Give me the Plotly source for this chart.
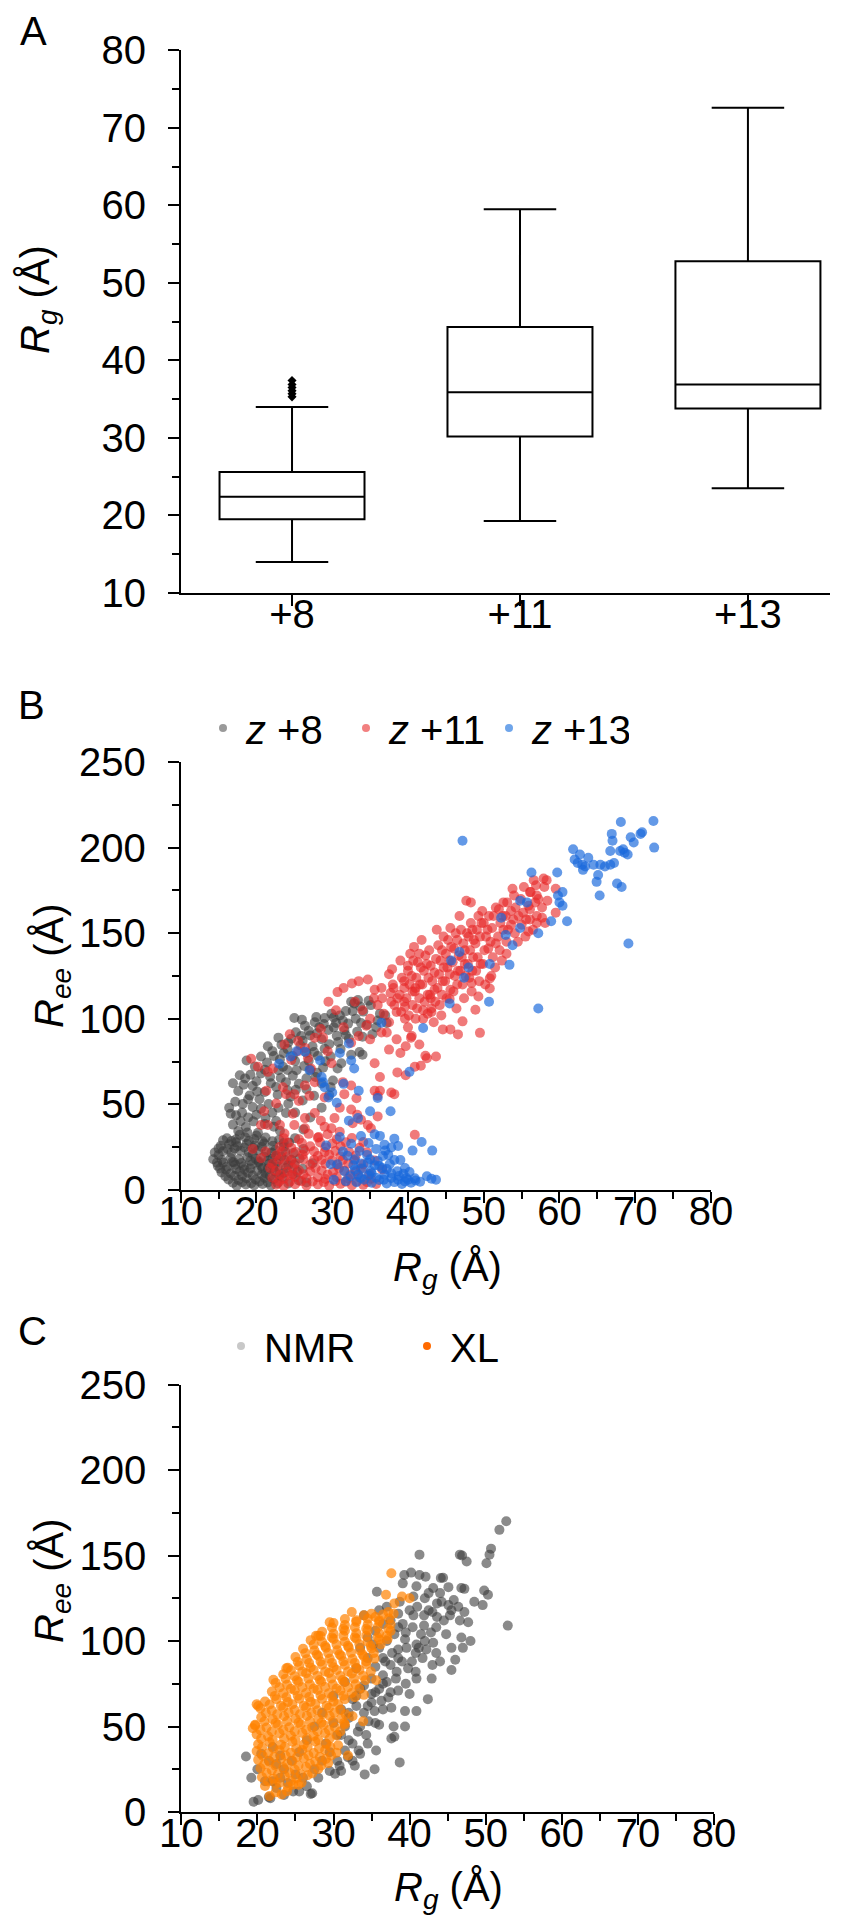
import plotly.graph_objects as go

# ---------------- Panel A data: box statistics of Rg (Å) ----------------
categories = ["+8", "+11", "+13"]
box_q1 = [19.5, 30.2, 33.8]
box_median = [22.4, 35.9, 36.9]
box_q3 = [25.6, 44.3, 52.8]
box_low = [14.0, 19.3, 23.5]
box_high = [34.0, 59.5, 72.6]
outlier_cat = ["+8", "+8", "+8", "+8", "+8", "+8"]
outlier_rg = [35.3, 35.7, 36.1, 36.5, 36.9, 37.4]

# ---------------- Panel B data: (Rg, Ree) pairs per charge state ----------------
b_z8 = [
    [17.4, 2.5], [18.6, 3.2], [19.7, 2.8], [20.8, 3.5], [21.9, 2.6], [22.8, 4.0], [24.2, 3.8],
    [16.3, 6.2], [17.6, 5.8], [18.7, 6.9], [19.9, 6.1], [21.1, 7.0], [22.3, 6.4], [23.4, 7.6], [25.6, 5.5],
    [15.4, 10.2], [16.6, 9.6], [17.8, 10.8], [18.9, 10.1], [20.1, 11.2], [21.2, 9.8], [22.4, 10.9], [23.6, 9.9], [26.1, 12.4],
    [14.9, 14.1], [16.1, 13.6], [17.2, 14.8], [18.3, 13.9], [19.4, 15.0], [20.6, 14.2], [21.7, 15.3], [22.8, 13.8], [25.0, 14.8],
    [14.3, 18.0], [15.4, 17.6], [16.6, 18.7], [17.7, 17.9], [18.8, 19.1], [19.9, 18.2], [21.0, 19.4], [22.1, 18.3], [23.3, 19.6], [24.6, 17.6],
    [14.5, 21.9], [15.6, 22.6], [16.7, 21.7], [17.9, 22.9], [19.0, 22.0], [20.2, 23.1], [21.3, 21.9], [22.5, 23.3],
    [15.3, 25.8], [16.4, 26.7], [17.5, 25.6], [18.7, 27.0], [19.8, 26.0], [21.0, 27.2], [22.2, 25.9],
    [16.1, 30.2], [17.3, 29.6], [18.5, 30.8], [19.7, 29.8], [21.2, 30.6], [23.6, 27.5],
    [15.0, 20.5], [16.0, 11.8], [17.0, 16.2], [18.1, 8.3], [19.2, 12.6], [20.3, 16.8], [21.5, 12.4], [22.6, 16.0],
    [19.5, 20.7], [17.1, 24.2], [20.7, 25.2], [23.8, 22.4], [24.8, 9.2], [26.6, 4.4], [27.4, 15.6], [26.2, 24.0], [24.3, 27.8],
    [16.9, 4.2], [18.1, 4.6], [19.3, 4.0], [20.4, 5.0], [21.5, 4.4], [15.9, 8.0], [17.1, 8.2], [19.5, 8.5],
    [20.7, 8.9], [21.8, 8.2], [23.0, 8.8], [15.6, 15.9], [16.8, 16.4], [18.0, 15.8], [19.2, 17.0], [20.3, 16.1],
    [21.5, 17.2], [22.6, 19.9], [15.0, 24.3], [16.2, 24.0], [17.3, 27.9], [18.4, 24.8], [19.6, 24.5], [20.8, 28.5],
    [22.0, 21.7], [23.0, 29.4], [16.7, 28.6], [19.0, 28.6], [20.0, 31.8], [17.8, 32.2], [18.8, 33.6], [15.6, 29.0],
    [14.8, 16.0], [15.2, 12.5], [17.3, 12.3], [18.4, 12.0], [20.8, 12.6], [22.2, 13.0], [23.9, 12.8], [25.4, 10.6],
    [24.2, 14.6], [23.7, 17.5], [24.9, 21.6], [25.7, 18.4],
    [16.6, 44.5], [17.3, 43.6], [18.1, 45.2], [16.9, 38.2], [17.6, 34.5], [18.6, 36.8], [19.6, 40.1], [20.2, 33.4],
    [21.1, 38.5], [18.2, 50.3], [19.1, 55.2], [17.6, 57.8], [18.3, 61.5], [16.9, 62.4], [20.0, 63.5], [19.2, 67.3],
    [17.8, 67.0], [21.1, 57.3], [21.6, 50.2], [20.6, 47.4], [22.1, 45.1], [22.6, 40.3], [23.1, 34.6], [19.5, 48.5],
    [20.4, 53.0], [21.9, 62.4], [22.8, 55.6], [18.7, 75.6], [19.8, 72.1], [21.1, 70.3], [20.6, 78.0],
    [17.9, 40.2], [18.9, 42.3], [20.0, 44.0], [21.2, 42.0], [22.3, 37.0], [16.4, 48.0], [17.2, 51.5], [18.9, 53.0],
    [20.1, 57.5], [19.5, 60.8], [18.5, 65.2], [20.6, 68.0], [21.8, 66.2], [22.9, 70.0], [21.4, 74.5], [22.3, 78.3],
    [23.6, 80.0], [24.8, 78.3], [23.3, 84.8], [24.2, 86.2], [25.9, 90.0], [26.9, 93.0], [27.9, 101.0], [28.9, 97.0],
    [29.5, 93.5], [30.2, 100.8], [31.4, 99.0], [32.7, 104.5], [33.7, 107.2], [34.8, 110.5], [26.0, 99.5], [28.0, 91.5],
    [30.8, 86.5], [29.0, 82.5], [27.6, 80.6], [26.3, 72.5], [25.3, 70.0], [23.9, 63.0], [22.9, 48.0], [23.9, 45.0],
    [24.5, 54.5], [25.2, 58.5], [26.6, 58.8], [27.8, 66.0], [28.8, 71.5], [30.1, 64.0], [29.8, 60.0], [31.2, 74.0],
    [32.5, 79.0], [33.3, 92.5], [34.0, 89.5], [35.3, 91.0], [36.0, 99.0], [37.2, 97.5], [33.8, 97.5], [31.8, 90.5],
    [21.5, 84.0], [22.9, 89.0], [22.1, 81.1], [23.1, 76.2], [24.1, 82.3], [24.6, 88.4], [25.2, 92.1], [25.0, 100.5],
    [26.4, 96.0], [27.7, 98.0], [28.3, 95.1], [29.0, 100.5], [29.9, 103.0], [31.0, 102.0], [30.5, 97.6], [32.5, 110.0],
    [33.4, 111.0], [36.3, 103.0], [33.6, 80.6], [30.7, 71.0], [26.1, 87.2], [27.1, 90.3], [28.6, 88.1], [26.6, 80.2],
    [25.1, 75.3], [24.1, 70.1], [23.2, 65.4], [22.6, 60.2], [24.1, 58.3], [25.6, 62.1], [27.1, 70.2], [28.1, 78.3],
    [29.6, 85.2], [30.6, 90.1], [31.6, 93.3], [32.1, 97.2], [33.1, 100.1], [34.1, 104.2], [35.1, 108.0], [24.2, 50.4],
    [25.1, 45.2], [26.1, 52.3], [27.6, 55.1], [28.6, 62.2], [26.6, 65.3], [29.1, 75.2], [31.1, 82.4], [32.2, 88.3],
    [22.1, 28.5], [23.6, 25.2], [25.1, 30.3], [26.2, 35.4], [27.1, 42.3], [28.6, 48.1], [29.6, 55.4], [32.9, 109.0],
    [37.0, 102.0], [34.0, 79.0], [25.8, 84.5], [27.4, 84.0], [23.5, 72.0], [24.8, 66.8], [28.0, 68.5], [29.8, 78.0],
    [30.2, 95.0], [26.9, 75.5], [31.8, 104.5], [35.8, 95.0], [34.6, 96.5],
]

b_z11 = [
    [22.6, 3.1], [23.6, 2.4], [25.1, 3.4], [26.6, 2.6], [28.1, 3.3], [29.6, 2.5], [31.1, 3.6], [32.6, 2.8], [34.1, 3.0],
    [22.1, 7.2], [23.6, 6.6], [25.1, 7.6], [26.6, 6.8], [28.1, 7.4], [29.1, 6.4], [30.6, 7.5], [32.1, 6.7], [33.6, 7.3], [35.1, 6.5],
    [22.6, 11.2], [24.1, 10.6], [25.6, 11.5], [27.1, 10.8], [28.6, 11.4], [30.1, 10.5], [31.6, 11.3], [33.1, 10.9],
    [22.1, 15.3], [23.6, 14.7], [25.1, 15.6], [27.1, 14.8], [29.1, 15.4], [30.6, 14.6], [32.1, 15.5], [34.1, 15.0],
    [22.6, 20.3], [24.1, 19.6], [26.1, 20.5], [28.1, 19.8], [29.6, 20.6], [31.1, 19.7], [33.1, 20.2],
    [23.1, 25.2], [24.6, 24.6], [27.1, 25.5], [29.1, 24.8], [31.1, 25.6], [33.6, 24.7],
    [23.6, 30.3], [25.6, 29.6], [28.1, 30.5], [30.6, 29.7], [32.6, 30.4],
    [19.5, 24.0], [21.2, 22.5], [20.6, 18.5], [21.8, 12.8], [27.6, 17.6], [24.6, 8.6], [26.4, 22.8], [30.0, 17.2],
    [35.8, 3.5], [36.6, 12.0], [40.9, 32.3],
    [23.0, 5.0], [24.4, 4.8], [25.9, 5.2], [27.4, 5.0], [28.9, 4.6], [30.4, 5.2], [31.8, 4.8], [33.2, 5.0],
    [34.6, 4.6], [23.2, 9.0], [24.8, 12.8], [26.2, 9.2], [27.8, 12.9], [29.4, 9.0], [30.9, 12.8], [32.4, 9.0],
    [33.8, 12.6], [23.0, 17.8], [24.6, 17.4], [26.2, 17.9], [28.6, 17.5], [31.4, 17.6], [32.9, 17.4], [23.4, 22.5],
    [25.2, 22.2], [27.6, 22.6], [29.0, 22.2], [30.4, 22.8], [32.2, 22.4], [24.1, 27.6], [26.0, 27.4], [28.4, 27.8],
    [30.0, 27.2], [31.8, 27.9], [34.9, 9.4], [35.6, 17.2], [34.6, 22.0], [34.1, 28.0], [26.9, 32.8], [29.4, 32.6],
    [19.3, 76.7], [20.2, 72.0], [21.5, 69.0], [22.2, 71.0], [21.3, 58.0], [23.5, 60.0], [23.9, 56.0], [20.6, 38.0],
    [21.5, 38.0], [23.1, 38.0], [23.7, 33.0], [25.0, 38.0], [26.4, 42.0], [27.7, 45.0], [26.4, 36.0], [28.2, 31.0],
    [29.0, 37.0], [29.9, 36.0], [30.3, 42.0], [31.0, 48.0], [31.6, 56.0], [31.4, 63.0], [29.9, 74.0], [29.4, 81.0],
    [28.8, 89.0], [28.5, 94.0], [27.7, 89.0], [26.4, 83.0], [25.5, 81.0], [24.6, 76.0], [23.7, 85.0], [24.4, 91.0],
    [25.5, 87.0], [26.8, 77.0], [27.2, 71.0], [27.7, 63.0], [26.4, 61.0], [25.0, 56.0], [25.6, 52.0], [27.0, 55.0],
    [29.0, 54.0], [32.5, 47.0], [32.7, 39.0], [33.8, 41.0], [34.7, 38.0], [35.6, 58.0], [36.0, 55.0], [37.8, 57.0],
    [36.0, 43.0], [35.1, 36.0], [33.3, 44.0], [32.5, 61.0], [33.2, 53.6], [35.6, 74.0], [36.3, 66.0], [38.6, 68.7],
    [38.2, 56.0], [36.3, 58.0], [39.7, 67.0], [40.9, 72.0], [42.5, 77.0], [43.7, 78.0], [41.7, 72.6], [42.3, 78.4],
    [21.0, 46.0], [22.6, 50.5], [24.8, 44.5], [28.5, 40.5], [31.0, 34.0],
    [30.7, 115.6], [32.6, 120.6], [34.7, 123.0], [31.5, 118.0], [33.5, 122.0], [33.0, 110.0], [34.0, 105.0], [35.0, 100.0],
    [35.5, 112.0], [36.5, 118.0], [37.5, 126.0], [38.0, 120.0], [36.0, 108.0], [34.5, 96.0], [33.5, 90.0], [32.5, 86.0],
    [35.0, 88.0], [36.5, 92.0], [37.5, 98.0], [38.5, 104.0], [39.5, 110.0], [38.5, 88.0], [39.0, 80.0], [37.5, 82.0],
    [40.0, 95.0], [41.0, 100.0], [40.5, 90.0], [41.5, 85.0], [42.0, 105.0], [43.0, 112.0], [41.0, 118.0], [39.5, 122.0],
    [40.0, 128.0], [37.2, 92.0], [31.5, 95.0], [30.5, 105.0], [29.5, 110.0], [40.4, 89.0], [39.7, 84.0], [43.1, 106.0],
    [45.5, 111.6], [44.6, 93.8], [45.6, 93.8], [46.6, 90.9], [49.5, 91.8], [47.2, 98.5], [48.9, 105.3], [50.8, 117.7],
    [50.8, 123.6], [49.3, 113.0], [48.4, 120.9], [47.7, 169.0], [48.3, 168.0],
    [38.2, 108], [38.1, 118], [37.9, 129], [39.1, 104], [38.9, 114], [39.2, 124], [39.0, 134],
    [40.1, 102], [39.8, 112], [40.2, 120], [40.0, 131], [40.3, 138],
    [41.2, 106], [40.9, 116], [41.1, 124], [41.3, 133], [40.8, 142],
    [42.0, 100], [42.2, 110], [41.9, 120], [42.1, 128], [42.3, 137], [41.8, 146],
    [43.1, 104], [42.9, 114], [43.2, 122], [43.0, 131], [42.8, 140],
    [44.2, 108], [43.9, 118], [44.1, 126], [44.3, 134], [44.0, 143], [43.8, 152],
    [45.1, 112], [44.9, 122], [45.2, 130], [45.0, 138], [45.3, 146],
    [46.0, 116], [46.2, 125], [45.9, 133], [46.1, 141], [46.3, 150],
    [47.2, 120], [46.9, 128], [47.1, 136], [47.3, 144], [47.0, 152], [46.8, 160],
    [48.1, 124], [47.9, 132], [48.2, 140], [48.0, 148], [48.3, 156],
    [49.0, 128], [49.2, 136], [48.9, 144], [49.1, 152], [49.3, 160],
    [50.2, 120], [49.9, 132], [50.1, 140], [50.3, 148], [50.0, 156], [49.8, 163],
    [51.0, 125], [51.2, 136], [50.9, 145], [51.1, 153], [51.3, 160],
    [52.1, 140], [51.9, 148], [52.2, 156], [52.0, 164],
    [53.0, 145], [53.2, 152], [52.9, 160], [53.1, 168],
    [54.1, 150], [53.9, 158], [54.2, 165], [54.0, 172],
    [55.0, 155], [55.2, 162], [54.9, 170],
    [56.1, 158], [55.9, 166], [56.2, 174],
    [57.0, 160], [57.2, 170], [56.9, 178],
    [57.9, 182], [58.3, 181], [59.5, 176], [56.1, 174], [57.0, 172], [58.4, 169], [57.7, 165], [56.8, 168],
    [56.1, 164], [59.5, 162], [57.7, 159], [57.0, 156], [58.1, 156], [55.9, 151],
    [39.5, 118], [41.5, 112], [43.5, 127], [45.5, 134], [47.5, 140], [49.5, 148], [44.5, 140], [46.5, 146],
    [42.5, 132], [40.5, 125], [48.5, 152], [50.5, 152], [52.5, 160], [43.5, 117], [45.5, 126], [47.5, 132],
    [41.5, 138], [46.5, 120], [44.5, 114], [48.5, 128],
    [38.6, 112], [39.6, 107], [40.6, 116], [41.6, 120], [42.6, 114], [43.6, 110], [44.6, 122], [45.6, 117],
    [46.6, 128], [47.6, 125], [48.6, 136], [49.6, 132], [50.6, 141], [51.6, 144], [52.6, 152], [53.6, 155],
    [54.6, 160], [55.6, 158], [44.7, 130], [45.7, 142], [46.7, 137], [47.8, 150], [48.7, 146], [49.7, 156],
    [50.7, 160], [51.6, 165], [52.6, 168], [53.6, 163], [42.7, 124], [41.7, 130], [40.7, 134], [43.7, 135],
    [44.7, 148], [45.6, 153], [39.6, 100], [40.6, 108], [42.6, 103], [36.8, 103], [37.8, 110], [36.6, 112],
    [35.6, 117], [37.7, 115], [43.4, 98], [44.4, 102], [46.4, 106], [47.4, 112], [48.4, 116], [49.4, 122],
    [51.5, 130], [52.4, 134], [53.0, 138], [54.5, 145], [55.5, 148], [56.5, 152], [53.8, 176], [55.3, 177],
    [56.6, 181], [58.0, 177],
]

b_z13 = [
    [68.1, 215], [72.4, 215.5], [66.9, 208], [67.0, 204], [69.4, 206], [70.9, 209], [70.7, 208], [69.8, 203],
    [72.5, 200], [61.8, 199], [62.7, 196], [63.8, 194], [62.4, 191], [63.4, 189], [63.1, 187], [64.5, 190],
    [65.4, 190], [66.0, 189], [66.7, 190], [67.2, 191], [66.7, 198], [68.0, 198], [68.6, 197], [69.0, 196],
    [68.4, 199], [65.1, 184], [64.9, 180], [65.3, 172], [67.6, 179], [68.2, 177], [69.1, 144], [56.3, 185.5],
    [59.7, 185.5], [59.8, 172], [60.4, 174], [60.0, 168], [60.4, 166], [61.0, 157], [58.9, 157], [57.2, 150],
    [57.2, 106], [63.0, 190], [62.0, 193],
    [47.2, 204], [54.8, 169], [55.7, 168], [52.3, 159], [52.9, 149], [54.8, 153], [53.8, 143], [53.4, 131.5],
    [50.8, 132], [48.0, 130], [47.4, 124], [45.7, 134], [46.8, 139], [45.5, 109], [50.7, 110], [42.0, 94.6],
    [40.2, 69], [36.5, 97.7], [37.7, 46], [36.0, 53.7], [35.0, 46], [33.4, 42], [32.2, 40.5], [31.0, 80],
    [32.2, 85.6], [32.5, 75.6], [32.9, 71], [30.6, 51], [29.5, 54], [28.6, 66], [28.8, 63], [28.4, 75.6],
    [23.0, 73.7], [25.3, 81], [26.4, 80.8], [40.6, 23], [41.8, 28], [43.2, 23], [43.1, 6.6], [40.9, 6.8],
    [42.5, 8], [43.7, 6], [29.0, 60], [30.0, 57], [31.5, 62], [27.0, 70], [24.5, 78], [33.5, 58],
    [31.0, 31], [32.5, 27], [33.8, 31.5], [35.6, 32.5], [36.3, 31.6], [37.8, 24.8], [38.7, 25.7], [36.7, 19.9],
    [33.6, 22.8], [34.7, 16], [32.0, 20], [30.7, 15], [29.8, 15], [31.6, 11], [33.4, 9], [35.1, 11],
    [36.9, 9], [37.8, 7], [38.7, 6], [39.6, 5], [40.0, 6],
    [33.2, 4.5], [34.2, 6.0], [35.2, 4.2], [36.2, 5.8], [37.2, 3.8], [38.2, 4.6], [39.2, 3.5], [34.0, 12.5],
    [35.6, 14.5], [36.6, 12.8], [37.6, 15.2], [38.6, 11.0], [39.4, 9.5], [34.6, 20.5], [35.8, 24.0], [36.9, 26.5],
    [39.0, 17.5], [32.8, 14.5], [33.0, 18.0], [31.4, 22.5], [30.2, 6.0], [31.8, 5.2], [37.4, 20.5], [38.2, 30.0],
    [34.8, 27.5], [29.2, 26.0],
    [33.8, 7.0], [34.8, 8.5], [35.8, 7.2], [36.8, 6.0], [37.8, 9.8], [38.8, 8.2], [39.8, 7.0], [40.4, 4.2],
    [41.0, 5.5], [35.2, 9.8], [36.2, 14.0], [37.2, 12.2], [38.2, 17.5], [35.0, 18.0], [33.8, 15.5], [36.0, 17.0],
    [37.0, 23.0], [39.6, 12.8], [40.2, 10.5], [41.6, 4.8], [32.4, 8.0], [33.0, 12.0],
]

# ---------------- Panel C data: (Rg, Ree) pairs, NMR vs XL ----------------
c_nmr = [
    [52.7, 170], [51.8, 165], [50.7, 154], [50.5, 150.5], [50.1, 145.5], [46.6, 150.5], [46.9, 150], [47.5, 146.5],
    [41.3, 150.5], [52.9, 109], [49.6, 121], [50.3, 127], [49.8, 129.5], [46.8, 131], [47.2, 130.5], [45.1, 131.5],
    [44.1, 136.8], [44.4, 137], [41.3, 138.6], [42.1, 137.6], [39.3, 138.6], [39.1, 133.7], [35.7, 128.8], [40.9, 132],
    [43.1, 131], [38.7, 123], [40.5, 126], [42.0, 125], [43.6, 122], [44.2, 123], [45.1, 121], [46.4, 120],
    [45.3, 115], [46.6, 112], [47.7, 111], [40.5, 115], [41.9, 115], [43.0, 117], [43.6, 114], [39.1, 110],
    [40.4, 108], [41.9, 109], [42.8, 105], [39.4, 101], [40.9, 98], [42.0, 100], [43.1, 99], [39.6, 96],
    [40.8, 93], [41.7, 90], [40.3, 88], [46.8, 102], [47.0, 96], [45.5, 83], [39.0, 88], [37.7, 93],
    [38.3, 82], [40.9, 78], [42.9, 78], [40.8, 82], [40.0, 69], [42.4, 66], [38.5, 71], [37.2, 67],
    [39.4, 59], [40.9, 59], [37.6, 61], [35.0, 69], [36.3, 65], [35.4, 59], [34.6, 53], [36.0, 51],
    [37.9, 50], [38.0, 44], [39.4, 50], [37.6, 43], [33.2, 47], [34.3, 45], [35.6, 36], [33.3, 36],
    [38.7, 29], [34.1, 22], [35.4, 25], [31.9, 32], [32.8, 27], [30.8, 27], [30.2, 22.4], [27.2, 11],
    [21.7, 8], [19.5, 6], [27.0, 10.5], [18.5, 32.5], [19.2, 20], [20.0, 25], [21.0, 18], [22.0, 18],
    [23.0, 20], [24.0, 17], [24.7, 12], [20.1, 7], [21.5, 8.8],
    [31.0, 60], [32.0, 55], [33.0, 62], [34.0, 58], [35.0, 64], [36.0, 72], [37.0, 76], [36.5, 80],
    [35.5, 85], [34.5, 90], [33.5, 96], [34.5, 102], [35.5, 106], [36.5, 110], [37.5, 112], [38.5, 116],
    [37.0, 100], [38.0, 104], [36.0, 96], [35.0, 78], [33.5, 72], [32.5, 66], [31.5, 50], [30.5, 45],
    [32.0, 42], [29.5, 35], [28.5, 30], [27.5, 25], [26.0, 20], [25.0, 22], [29.0, 40], [30.0, 52],
    [38.5, 95], [39.5, 105], [41.0, 120], [42.5, 128], [44.0, 128], [48.5, 123], [37.0, 120], [36.0, 118],
    [34.0, 115], [35.2, 98], [33.0, 84], [31.5, 76], [30.0, 68], [28.5, 58], [27.5, 50], [26.5, 42],
    [25.5, 35], [24.5, 30], [23.5, 25], [22.5, 28], [21.5, 30], [20.5, 34], [22.0, 38], [23.0, 33],
    [40.2, 140], [45.8, 124], [47.2, 117], [48.0, 100], [43.5, 108], [44.8, 104], [45.5, 96], [46.0, 89],
    [29.5, 24], [30.5, 30], [31.5, 36], [32.5, 40], [33.5, 50], [34.5, 62], [35.5, 70], [36.5, 75],
    [37.5, 86], [38.5, 90], [37.5, 70], [36.5, 60], [35.5, 52], [34.5, 40], [33.5, 34], [32.5, 30],
    [31.0, 24], [28.0, 20], [26.5, 15], [25.5, 12], [23.5, 10], [22.5, 14], [36.8, 88], [38.2, 78],
    [39.5, 75], [39.8, 84], [41.2, 96], [42.2, 95], [43.5, 93], [44.0, 88], [43.0, 86], [41.5, 104],
    [44.5, 112], [42.5, 118], [45.5, 118], [40.0, 118], [38.5, 108], [36.5, 90], [34.0, 74], [33.0, 68],
    [32.0, 58], [31.0, 45],
]

c_xl = [
    [21.6, 9.3], [23.2, 10.3], [23.9, 12.2], [22.4, 11.5],
    [21.0, 15.2], [22.4, 16.6], [24.0, 14.6], [25.4, 16.0], [24.7, 15.9],
    [20.6, 20.4], [22.1, 19.5], [23.6, 21.2], [25.1, 19.8], [26.6, 21.5], [27.2, 22.7],
    [20.4, 25.6], [21.9, 24.4], [23.4, 26.1], [24.9, 24.8], [26.4, 26.3], [28.0, 25.2], [29.3, 28.6],
    [20.1, 30.5], [21.6, 29.4], [23.1, 31.2], [24.6, 29.8], [26.1, 31.4], [27.6, 29.6], [29.0, 31.0],
    [19.9, 35.6], [21.4, 34.3], [22.9, 36.1], [24.4, 34.7], [25.9, 36.3], [27.4, 34.5], [28.9, 36.2], [30.4, 34.6], [31.9, 33.0],
    [20.1, 39.6], [21.6, 40.8], [23.1, 39.4], [24.6, 41.1], [26.1, 39.5], [27.6, 41.2], [29.1, 39.8], [30.6, 39.0],
    [19.9, 45.4], [21.4, 44.3], [22.9, 46.0], [24.4, 44.6], [25.9, 46.2], [27.4, 44.5], [28.9, 46.1], [30.4, 44.7],
    [19.7, 50.6], [21.2, 49.4], [22.7, 51.2], [24.2, 49.6], [25.7, 51.3], [27.2, 49.5], [28.7, 51.0], [30.2, 49.6], [31.5, 51.2],
    [20.5, 55.4], [22.0, 54.3], [23.5, 56.0], [25.0, 54.5], [26.5, 56.2], [28.0, 54.4], [29.5, 56.1], [31.0, 54.6], [32.5, 56.0], [33.9, 53.0],
    [20.4, 60.6], [21.9, 59.4], [23.4, 61.2], [24.9, 59.6], [26.4, 61.3], [27.9, 59.5], [29.4, 61.0], [30.9, 59.7],
    [21.0, 64.6], [22.5, 66.0], [24.0, 64.4], [25.5, 66.2], [27.0, 64.5], [28.5, 66.1], [30.0, 64.6], [31.5, 66.0],
    [21.9, 70.4], [23.4, 69.5], [24.9, 71.2], [26.4, 69.6], [27.9, 71.3], [29.4, 69.5], [30.9, 71.0], [32.4, 69.6], [34.0, 68.5],
    [22.4, 75.5], [23.9, 74.4], [25.4, 76.1], [26.9, 74.6], [28.4, 76.2], [29.9, 74.5], [31.4, 76.0], [32.9, 74.7],
    [23.4, 80.6], [24.9, 79.4], [26.4, 81.2], [27.9, 79.6], [29.4, 81.3], [30.9, 79.5], [32.4, 81.0], [33.9, 79.6], [35.6, 77.0],
    [24.0, 84.4], [25.5, 85.6], [27.0, 84.5], [28.5, 86.1], [30.0, 84.6], [31.5, 86.0], [33.0, 84.4], [34.3, 86.5],
    [25.0, 90.6], [26.5, 89.4], [28.0, 91.2], [29.5, 89.6], [31.0, 91.3], [32.5, 89.5], [34.0, 91.0], [35.4, 89.7],
    [26.0, 95.5], [27.5, 94.4], [29.0, 96.1], [30.5, 94.6], [32.0, 96.2], [33.5, 94.5], [35.0, 95.6],
    [27.0, 100.5], [28.5, 99.4], [30.0, 101.2], [31.5, 99.6], [33.0, 101.3], [34.5, 99.5], [36.0, 100.8], [37.1, 101.0],
    [28.5, 105.4], [30.0, 104.3], [31.5, 106.0], [33.0, 104.6], [34.5, 106.2], [36.0, 104.5], [37.5, 105.8],
    [30.0, 110.5], [31.5, 109.4], [33.0, 111.2], [34.5, 109.6], [36.0, 111.3], [37.5, 109.8],
    [32.4, 117.0], [34.0, 115.0], [35.0, 116.0], [35.5, 114.0], [36.5, 115.5], [37.9, 116.0], [37.2, 117.0],
    [37.6, 139.6], [36.9, 127.0], [39.0, 126.0], [40.0, 125.0], [38.0, 122.0], [29.5, 111.0], [27.7, 103.0],
    [23.8, 84.0], [22.1, 77.3], [20.1, 62.0], [19.7, 51.0], [19.4, 49.0], [19.9, 63.0], [28.0, 103.0],
    [21.4, 17.9], [22.9, 17.1], [24.4, 18.0], [25.8, 17.2],
    [21.2, 22.8], [22.7, 22.0], [24.2, 23.0], [25.7, 22.1],
    [20.9, 27.9], [22.4, 27.1], [23.9, 28.0], [25.4, 27.2], [26.9, 28.1], [28.4, 27.2],
    [20.7, 32.9], [22.2, 32.1], [23.7, 33.0], [25.2, 32.2], [26.7, 33.1], [28.2, 32.2], [29.7, 33.0],
    [20.6, 37.9], [22.1, 37.1], [23.6, 38.0], [25.1, 37.2], [26.6, 38.1], [28.1, 37.2], [29.6, 38.0],
    [20.5, 42.9], [22.0, 42.1], [23.5, 43.0], [25.0, 42.2], [26.5, 43.1], [28.0, 42.2], [29.5, 43.0],
    [20.4, 47.9], [21.9, 47.1], [23.4, 48.0], [24.9, 47.2], [26.4, 48.1], [27.9, 47.2], [29.4, 48.0], [30.9, 47.1],
    [20.9, 52.9], [22.4, 52.1], [23.9, 53.0], [25.4, 52.2], [26.9, 53.1], [28.4, 52.2], [29.9, 53.0], [31.4, 52.1],
    [21.1, 57.9], [22.6, 57.1], [24.1, 58.0], [25.6, 57.2], [27.1, 58.1], [28.6, 57.2], [30.1, 58.0], [31.6, 57.1],
    [21.6, 62.9], [23.1, 62.1], [24.6, 63.0], [26.1, 62.2], [27.6, 63.1], [29.1, 62.2], [30.6, 63.0],
    [22.3, 67.9], [23.8, 67.1], [25.3, 68.0], [26.8, 67.2], [28.3, 68.1], [29.8, 67.2], [31.3, 68.0], [32.8, 67.1],
    [22.9, 72.9], [24.4, 72.1], [25.9, 73.0], [27.4, 72.2], [28.9, 73.1], [30.4, 72.2], [31.9, 73.0], [33.4, 72.1],
    [23.7, 77.9], [25.2, 77.1], [26.7, 78.0], [28.2, 77.2], [29.7, 78.1], [31.2, 77.2], [32.7, 78.0], [34.2, 77.1],
    [24.4, 82.9], [25.9, 82.1], [27.4, 83.0], [28.9, 82.2], [30.4, 83.1], [31.9, 82.2], [33.4, 83.0], [34.9, 82.1],
    [25.3, 87.9], [26.8, 87.1], [28.3, 88.0], [29.8, 87.2], [31.3, 88.1], [32.8, 87.2], [34.3, 88.0],
    [26.3, 92.9], [27.8, 92.1], [29.3, 93.0], [30.8, 92.2], [32.3, 93.1], [33.8, 92.2], [35.3, 93.0],
    [27.4, 97.9], [28.9, 97.1], [30.4, 98.0], [31.9, 97.2], [33.4, 98.1], [34.9, 97.2], [36.2, 98.0],
    [28.3, 102.9], [29.8, 102.1], [31.3, 103.0], [32.8, 102.2], [34.3, 103.1], [35.8, 102.2], [37.0, 103.0],
    [29.8, 107.9], [31.3, 107.1], [32.8, 108.0], [34.3, 107.2], [35.8, 108.1], [37.2, 107.2],
    [31.5, 112.9], [33.0, 112.1], [34.5, 113.0], [36.0, 112.2], [37.3, 113.1],
]

legend_b_names = ["<i>z</i> +8", "<i>z</i> +11", "<i>z</i> +13"]
legend_c_names = ["NMR", "XL"]

# ---------------- styling ----------------
W, H = 843, 1920
FONT = "Liberation Sans, Arial, Helvetica, sans-serif"


def fx(p):
    return p / W


def fy(p):
    return 1 - p / H


def xs(pts):
    return [p[0] for p in pts]


def ys(pts):
    return [p[1] for p in pts]


fig = go.Figure()

# Panel A
fig.add_trace(go.Box(
    x=categories, q1=box_q1, median=box_median, q3=box_q3,
    lowerfence=box_low, upperfence=box_high,
    fillcolor="white", line=dict(color="black", width=2),
    whiskerwidth=0.5, width=0.636, boxpoints=False,
    xaxis="x", yaxis="y", showlegend=False, hoverinfo="skip",
))
fig.add_trace(go.Scatter(
    x=outlier_cat, y=outlier_rg, mode="markers",
    marker=dict(symbol="diamond", size=7, color="black"),
    xaxis="x", yaxis="y", showlegend=False,
))

MS = 10
# Panel B
for pts, col in [(b_z8, "rgba(60,60,60,0.6)"), (b_z11, "rgba(230,40,40,0.62)"), (b_z13, "rgba(25,105,220,0.68)")]:
    fig.add_trace(go.Scatter(
        x=xs(pts), y=ys(pts), mode="markers",
        marker=dict(size=MS, color=col, line=dict(width=0)),
        xaxis="x2", yaxis="y2", showlegend=False,
    ))
for name, col in zip(legend_b_names, ["#9a9a9a", "#f28080", "#6fa5ea"]):
    fig.add_trace(go.Scatter(
        x=[None], y=[None], mode="markers", name=name,
        marker=dict(size=8, color=col), xaxis="x2", yaxis="y2", legend="legend",
    ))

# Panel C
for pts, col in [(c_nmr, "rgba(60,60,60,0.6)"), (c_xl, "rgba(255,130,0,0.7)")]:
    fig.add_trace(go.Scatter(
        x=xs(pts), y=ys(pts), mode="markers",
        marker=dict(size=MS, color=col, line=dict(width=0)),
        xaxis="x3", yaxis="y3", showlegend=False,
    ))
for name, col in zip(legend_c_names, ["#c8c8c8", "#ff6a00"]):
    fig.add_trace(go.Scatter(
        x=[None], y=[None], mode="markers", name=name,
        marker=dict(size=8, color=col), xaxis="x3", yaxis="y3", legend="legend2",
    ))

tickfont = dict(family=FONT, size=40, color="black")
minor_common = dict(ticks="outside", ticklen=7, tickwidth=2, tickcolor="black", showgrid=False)
axis_common = dict(
    showline=True, linecolor="black", linewidth=2, ticks="outside", ticklen=11,
    tickwidth=2, tickcolor="black", showgrid=False, zeroline=False,
    tickfont=tickfont, automargin=False, fixedrange=True,
)
XSO = -26
YSO = 14

fig.update_layout(
    width=W, height=H,
    margin=dict(l=0, r=0, t=0, b=0),
    paper_bgcolor="white", plot_bgcolor="white",
    font=dict(family=FONT, color="black"),
    xaxis=dict(axis_common, type="category", categoryorder="array", categoryarray=categories,
               domain=[fx(173), fx(822)], range=[-0.487, 2.36], anchor="y", ticklabelstandoff=XSO),
    yaxis=dict(axis_common, domain=[fy(585), fy(42.3)], range=[10, 80], tick0=10, dtick=10,
               minor=dict(minor_common, dtick=5), anchor="x", ticklabelstandoff=YSO),
    xaxis2=dict(axis_common, domain=[fx(172.7), fx(703)], range=[10, 80], tick0=10, dtick=10,
                minor=dict(minor_common, dtick=5), anchor="y2", ticklabelstandoff=XSO),
    yaxis2=dict(axis_common, domain=[fy(1182), fy(754)], range=[0, 250], tick0=0, dtick=50,
                minor=dict(minor_common, dtick=25), anchor="x2", ticklabelstandoff=YSO),
    xaxis3=dict(axis_common, domain=[fx(173.3), fx(706)], range=[10, 80], tick0=10, dtick=10,
                minor=dict(minor_common, dtick=5), anchor="y3", ticklabelstandoff=XSO),
    yaxis3=dict(axis_common, domain=[fy(1804), fy(1376.5)], range=[0, 250], tick0=0, dtick=50,
                minor=dict(minor_common, dtick=25), anchor="x3", ticklabelstandoff=YSO),
    legend=dict(orientation="h", x=fx(192), y=fy(720), xanchor="left", yanchor="middle",
                font=dict(family=FONT, size=40, color="black"), itemwidth=36,
                entrywidth=92, bgcolor="rgba(0,0,0,0)", borderwidth=0, traceorder="normal"),
    legend2=dict(orientation="h", x=fx(210), y=fy(1338), xanchor="left", yanchor="middle",
                 font=dict(family=FONT, size=40, color="black"), itemwidth=36,
                 entrywidth=135, bgcolor="rgba(0,0,0,0)", borderwidth=0, traceorder="normal"),
    showlegend=True,
)

ann_font = dict(family=FONT, size=40, color="black")
annotations = [
    dict(text="A", x=fx(25), y=fy(23)),
    dict(text="B", x=fx(23), y=fy(697)),
    dict(text="C", x=fx(24), y=fy(1323)),
    dict(text="<i>R</i><sub><i>g</i></sub> (Å)", x=fx(30), y=fy(292), textangle=-90),
    dict(text="<i>R</i><sub><i>ee</i></sub> (Å)", x=fx(44), y=fy(958), textangle=-90),
    dict(text="<i>R</i><sub><i>g</i></sub> (Å)", x=fx(439), y=fy(1262)),
    dict(text="<i>R</i><sub><i>ee</i></sub> (Å)", x=fx(44), y=fy(1573), textangle=-90),
    dict(text="<i>R</i><sub><i>g</i></sub> (Å)", x=fx(440), y=fy(1882)),
]
for a in annotations:
    fig.add_annotation(xref="paper", yref="paper", showarrow=False,
                       xanchor="center", yanchor="middle", font=ann_font, **a)

fig.write_html("out.html")
